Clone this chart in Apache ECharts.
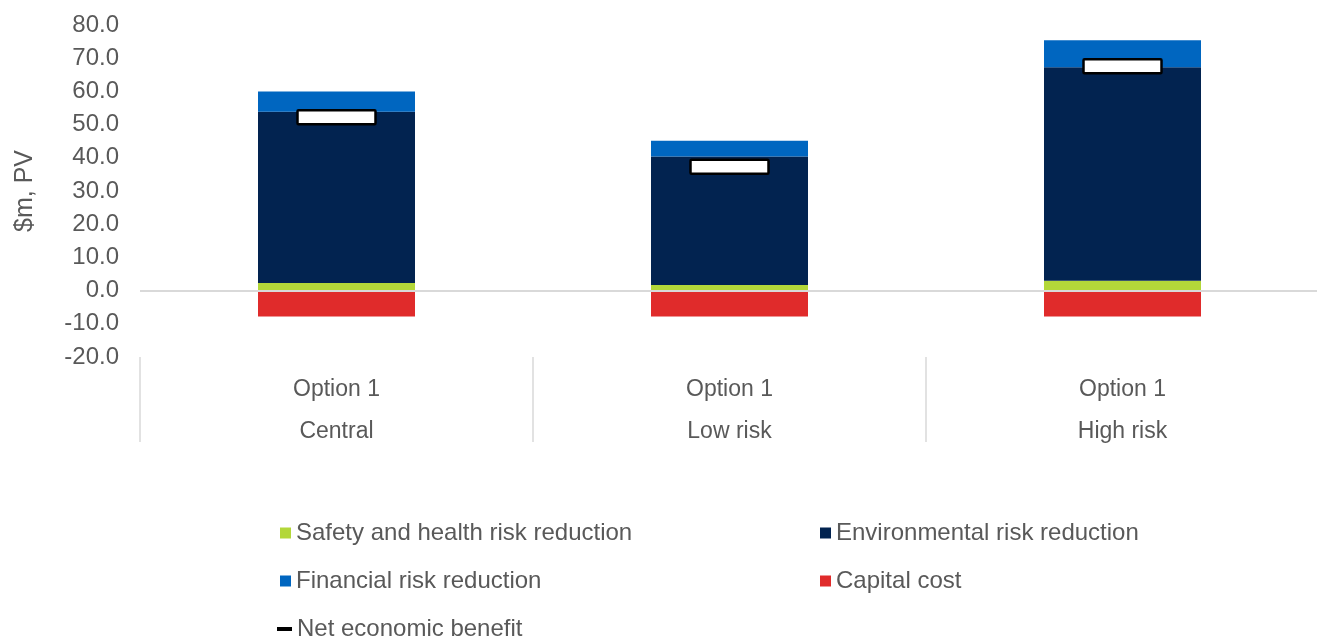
<!DOCTYPE html>
<html>
<head>
<meta charset="utf-8">
<script src="https://cdn.jsdelivr.net/npm/echarts@6/dist/echarts.min.js"></script>
<style>
html,body{margin:0;padding:0;background:#fff;}
#chart{width:1317px;height:637px;}
</style>
</head>
<body>
<div id="chart"></div>
<script>
var categories = ['Option 1\nCentral', 'Option 1\nLow risk', 'Option 1\nHigh risk'];
var safety = [2.3, 1.7, 3.0];
var environmental = [51.6, 38.7, 64.3];
var financial = [6.1, 4.7, 8.1];
var capital = [-7.8, -7.8, -7.8];
var netBenefit = [52.2, 37.3, 67.6];
var yTicks = {min: -20, max: 80, interval: 10};

var FONT = 'Liberation Sans, Arial, sans-serif';
var GREY = '#595959';
var legendText = {color: GREY, fontSize: 24, fontFamily: FONT};

function lg(name, left, top, extra) {
  var item = Object.assign({name: name, icon: 'rect'}, extra || {});
  return {
    data: [item], left: left, top: top, padding: 0, orient: 'horizontal',
    itemWidth: 11, itemHeight: 11, itemGap: 0, selectedMode: false,
    textStyle: legendText
  };
}

var chart = echarts.init(document.getElementById('chart'));
chart.setOption({
  animation: false,
  grid: {left: 140, width: 1179, top: 25, bottom: 280, containLabel: false, outerBoundsMode: 'none'},
  legend: [
    lg('Safety and health risk reduction', 280, 521),
    lg('Environmental risk reduction', 820, 521),
    lg('Financial risk reduction', 280, 569),
    lg('Capital cost', 820, 569),
    Object.assign(lg('Net economic benefit', 277, 617, {
      icon: 'path://M0,0H15V4H0Z',
      itemStyle: {color: '#000', borderWidth: 0}
    }), {itemWidth: 15, itemHeight: 4})
  ],
  xAxis: {
    type: 'category',
    data: categories,
    axisLine: {show: false, onZero: false},
    axisTick: {show: true, length: 85, lineStyle: {color: '#d9d9d9', width: 1.5}},
    axisLabel: {color: GREY, fontSize: 23, fontFamily: FONT, lineHeight: 42, margin: 12, interval: 0}
  },
  yAxis: {
    type: 'value',
    min: yTicks.min, max: yTicks.max, interval: yTicks.interval,
    name: '$m, PV',
    nameLocation: 'middle',
    nameGap: 102,
    nameTextStyle: {color: GREY, fontSize: 25, fontFamily: FONT},
    axisLine: {show: false},
    axisTick: {show: false},
    splitLine: {show: false},
    axisLabel: {color: GREY, fontSize: 24, fontFamily: FONT, margin: 21, padding: [3, 0, 0, 0],
      formatter: function (v) { return v.toFixed(1); }}
  },
  series: [
    {name: 'Safety and health risk reduction', type: 'bar', stack: 's', data: safety,
      barWidth: 157, itemStyle: {color: '#B3D739'},
      markLine: {silent: true, symbol: 'none', label: {show: false},
        lineStyle: {color: '#d9d9d9', width: 2, type: 'solid'}, data: [{yAxis: 0}]}},
    {name: 'Environmental risk reduction', type: 'bar', stack: 's', data: environmental,
      barWidth: 157, itemStyle: {color: '#022350'}},
    {name: 'Financial risk reduction', type: 'bar', stack: 's', data: financial,
      barWidth: 157, itemStyle: {color: '#0066C0'}},
    {name: 'Capital cost', type: 'bar', stack: 's', data: capital,
      barWidth: 157, itemStyle: {color: '#E02B2B'}},
    {name: 'Net economic benefit', type: 'custom', z: 5,
      data: netBenefit.map(function (v, i) { return [i, v]; }),
      encode: {x: 0, y: 1},
      itemStyle: {color: '#000'},
      renderItem: function (params, api) {
        var p = api.coord([api.value(0), api.value(1)]);
        var w = 78, h = 14;
        return {
          type: 'rect',
          shape: {x: p[0] - w / 2, y: p[1] - h / 2, width: w, height: h, r: 1},
          style: {fill: '#ffffff', stroke: '#000000', lineWidth: 2.5}
        };
      }}
  ]
});
</script>
</body>
</html>
